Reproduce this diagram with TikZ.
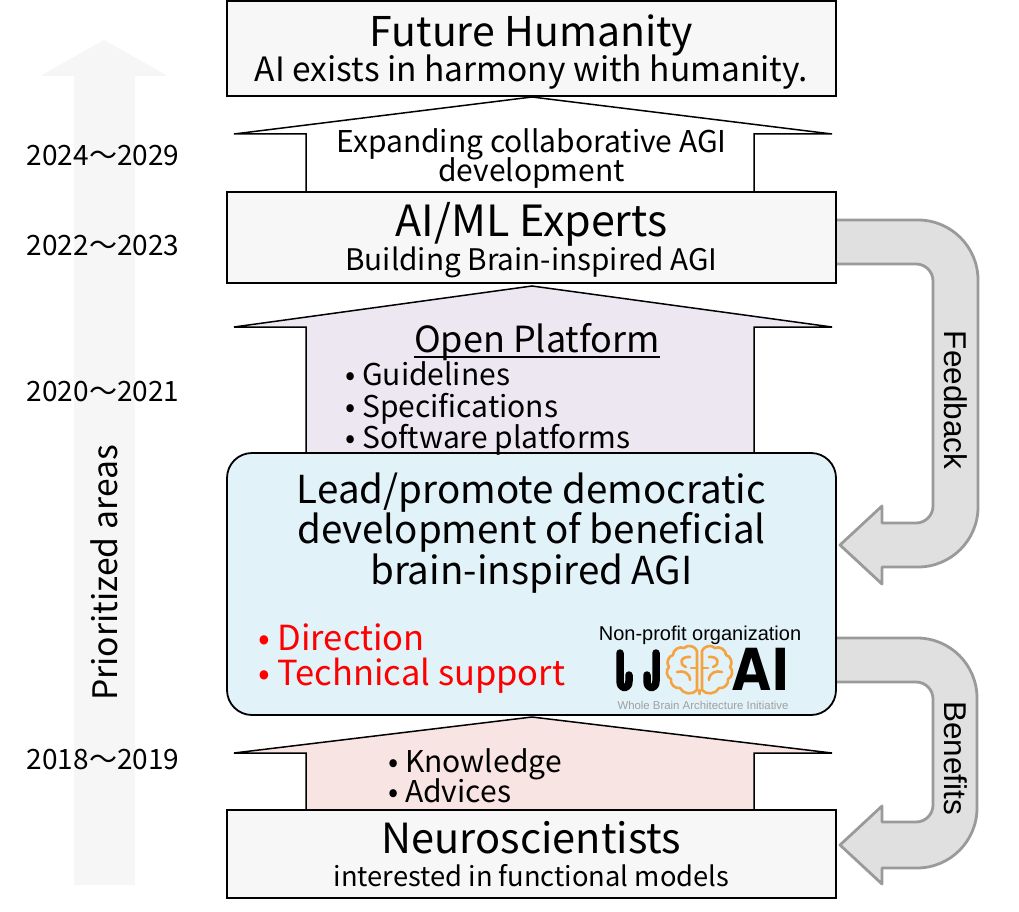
\documentclass[tikz,border=0pt]{standalone}
\usepackage{fontspec}
\setmainfont{Noto Sans CJK JP}
\newfontfamily\arialf{Liberation Sans}
\newfontfamily\logof{DejaVu Sans}
\usetikzlibrary{calc}
\definecolor{boxgray}{HTML}{F7F7F7}
\definecolor{lavender}{HTML}{EDE7F2}
\definecolor{wbaiblue}{HTML}{E1F2F9}
\definecolor{pinkish}{HTML}{F9E4E4}
\definecolor{loopfill}{HTML}{E0E0E0}
\definecolor{loopedge}{HTML}{9A9A9A}
\definecolor{bigarrow}{HTML}{F6F6F6}
\definecolor{brainorange}{HTML}{F4A340}
\definecolor{logogray}{HTML}{A0A0A0}
\newcommand\myfs[1]{\fontsize{#1}{#1}\selectfont}
\begin{document}
\begin{tikzpicture}[x=1pt,y=-1pt,
  box/.style={draw=black, line width=1.8pt, fill=boxgray, minimum width=609, inner sep=0},
  blockarrow/.style={draw=black, line width=1.5pt, line join=miter},
  loopband/.style={draw=loopedge, fill=loopfill, line width=2.8pt, line join=round},
  txt/.style={inner sep=0, anchor=base},
  bul/.style={inner sep=0, anchor=base west, font=\myfs{30}},
  wb/.style={txt, font=\myfs{38.5}},
  redbul/.style={inner sep=0, anchor=base west, font=\myfs{34.5}, text=red},
  year/.style={txt, font=\myfs{28}},
  loopt/.style={inner sep=0, font=\arialf\myfs{31.5}},
  wstroke/.style={line width=7.5pt, line cap=round, line join=round},
  brainl/.style={draw=brainorange, line width=2.6pt, line cap=round, line join=round}
]
\useasboundingbox (0,0) rectangle (1019,912);

% left big arrow
\fill[bigarrow] (104,40) -- (168,76) -- (135,76) -- (135,885) -- (74,885) -- (74,76) -- (40,76) -- cycle;

% feedback / benefits loops
\draw[loopband] (830,220) -- (918,220) .. controls (951.1,220) and (978,246.9) .. (978,280) -- (978,507) .. controls (978,540.1) and (951.1,567) .. (918,567) -- (882,567) -- (882,584) -- (840,545) -- (882,506) -- (882,523) -- (916,523) .. controls (925.4,523) and (933,515.4) .. (933,506) -- (933,281) .. controls (933,271.6) and (925.4,264) .. (916,264) -- (830,264) -- cycle;
\draw[loopband] (830,638) -- (917,638) .. controls (950.1,638) and (977,664.9) .. (977,698) -- (977,808) .. controls (977,841.1) and (950.1,868) .. (917,868) -- (882,868) -- (882,884) -- (840,845) -- (882,806) -- (882,822) -- (916,822) .. controls (925.4,822) and (933,814.4) .. (933,805) -- (933,699) .. controls (933,689.6) and (925.4,682) .. (916,682) -- (830,682) -- cycle;
\node[loopt, rotate=-90] (fb) at (956,400) {Feedback};
\node[loopt, rotate=-90] (bn) at (956,758) {Benefits};

% block arrows
\draw[blockarrow, fill=white] (532,97) -- (832,134) -- (754,134) -- (754,194) -- (306,194) -- (306,134) -- (234,134) -- cycle;
\draw[blockarrow, fill=lavender] (532,286) -- (832,327) -- (754,327) -- (754,458) -- (306,458) -- (306,327) -- (234,327) -- cycle;
\draw[blockarrow, fill=pinkish] (532,717) -- (832,753) -- (754,753) -- (754,812) -- (306,812) -- (306,753) -- (234,753) -- cycle;

% boxes
\node[box, minimum height=95] (fut) at (531.5,48.5) {};
\node[box, minimum height=91] (ai) at (531.5,237.5) {};
\node[box, minimum height=262, fill=wbaiblue, rounded corners=25pt] (wbai) at (531.5,584) {};
\node[box, minimum height=88] (neuro) at (531.5,854) {};

% texts in boxes
\node[txt, font=\myfs{41}] (futt) at (531.5,47) {Future Humanity};
\node[txt, font=\myfs{33.5}] (futs) at (531.5,82) {AI exists in harmony with humanity.};
\node[txt, font=\myfs{30}] (exp1) at (531.5,153) {Expanding collaborative AGI};
\node[txt, font=\myfs{30}] (exp2) at (531.5,182) {development};
\node[txt, font=\myfs{43}] (ait) at (531.5,236) {AI/ML Experts};
\node[txt, font=\myfs{29.7}] (ais) at (531.5,270) {Building Brain-inspired AGI};
\node[txt, font=\myfs{36}] (op) at (537,352) {Open Platform};
\draw[line width=1.4pt] ($(op.base west)+(0,5)$) -- ($(op.base east)+(0,5)$);
\node[bul] (g1) at (345,385) {• Guidelines};
\node[bul] (g2) at (345,417) {• Specifications};
\node[bul] (g3) at (345,448) {• Software platforms};
\node[wb] (w1) at (531.5,503) {Lead/promote democratic};
\node[wb] (w2) at (531.5,543) {development of beneficial};
\node[wb] (w3) at (531.5,584) {brain-inspired AGI};
\node[redbul] (r1) at (258,650) {• Direction};
\node[redbul] (r2) at (258,685) {• Technical support};
\node[txt, font=\arialf\myfs{20}] (npo) at (700,640) {Non-profit organization};
\node[bul] (k1) at (388,772) {• Knowledge};
\node[bul] (k2) at (388,802) {• Advices};
\node[txt, font=\myfs{41.5}] (nt) at (531.5,853) {Neuroscientists};
\node[txt, font=\myfs{27.3}] (ns) at (531.5,886) {interested in functional models};

% logo: W
\draw[wstroke] (620,653) -- (620,681) .. controls (620,690) and (629,690) .. (629,681) -- (629,675);
\draw[wstroke] (656,653) -- (656,681) .. controls (656,690) and (647,690) .. (647,681) -- (647,675);
% logo: brain
\draw[brainl] (697,651) to[bend right=60] (684,648) to[bend right=60] (673,655) to[bend right=60] (669,667)
  to[bend right=60] (671,679) to[bend right=60] (680,688) to[bend right=60] (697,690) -- cycle;
\draw[brainl] (702,651) to[bend left=60] (715,648) to[bend left=60] (726,655) to[bend left=60] (730,667)
  to[bend left=60] (728,679) to[bend left=60] (719,688) to[bend left=60] (702,690) -- cycle;
\draw[brainl] (690,657) .. controls (681,656) and (678,664) .. (686,667);
\draw[brainl] (677,672) .. controls (683,670) and (690,673) .. (690,680);
\draw[brainl] (697,668) -- (691,668);
\draw[brainl] (709,657) .. controls (718,656) and (721,664) .. (713,667);
\draw[brainl] (722,672) .. controls (716,670) and (709,673) .. (709,680);
\draw[brainl] (702,668) -- (708,668);
\draw[brainl] (699.5,690) -- (699.5,694);
% logo: AI and caption
\node[inner sep=0, anchor=base, font=\logof\bfseries\myfs{58}, xscale=0.86] (logoai) at (761,690) {AI};
\node[inner sep=0, anchor=base, text=logogray] (logotxt) at (703,709) {\resizebox{171pt}{!}{\arialf Whole Brain Architecture Initiative}};

% left side
\node[year] (y1) at (103,166) {2024～2029};
\node[year] (y2) at (103,255) {2022～2023};
\node[year] (y3) at (103,401) {2020～2021};
\node[year] (y4) at (103,769) {2018～2019};
\node[inner sep=0, font=\myfs{33.7}, rotate=90] (pa) at (104,573) {Prioritized areas};
\end{tikzpicture}
\end{document}
